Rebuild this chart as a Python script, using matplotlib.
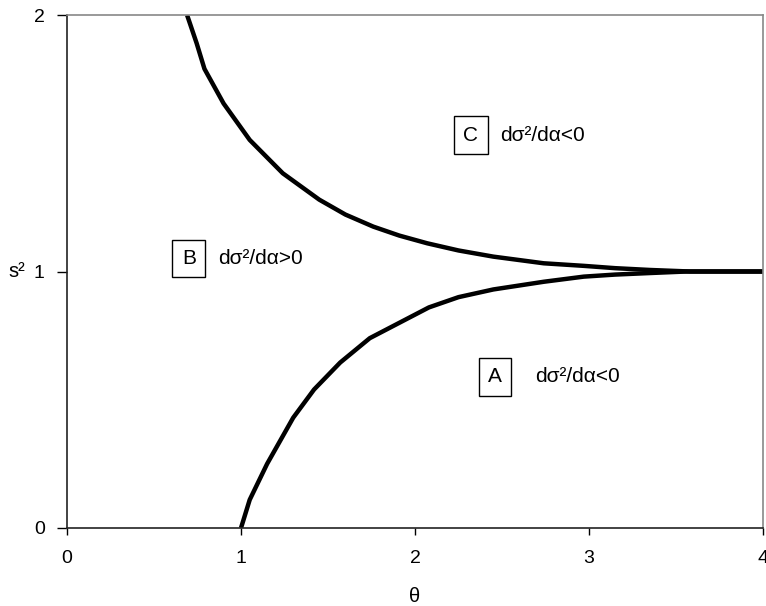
import matplotlib
matplotlib.use("Agg")
import matplotlib.pyplot as plt

plt.rcParams['font.family'] = ['Liberation Sans', 'DejaVu Sans']

# upper boundary curve (region C above, B left)
x_upper = [0.69, 0.745, 0.79, 0.90, 1.05, 1.24, 1.45, 1.60, 1.76, 1.91, 2.07, 2.25, 2.45, 2.74, 2.97, 3.15, 3.35, 3.58, 4.00]
y_upper = [2.00, 1.89, 1.79, 1.655, 1.513, 1.383, 1.28, 1.222, 1.175, 1.14, 1.11, 1.082, 1.058, 1.032, 1.022, 1.013, 1.006, 1.0, 1.0]

# lower boundary curve (region A below)
x_lower = [1.00, 1.05, 1.15, 1.30, 1.42, 1.57, 1.74, 1.91, 2.08, 2.25, 2.45, 2.74, 2.97, 3.15, 3.35, 3.56, 4.00]
y_lower = [0.00, 0.11, 0.25, 0.43, 0.54, 0.645, 0.74, 0.80, 0.86, 0.90, 0.93, 0.96, 0.98, 0.988, 0.994, 1.0, 1.0]

x_ticks = [0, 1, 2, 3, 4]
y_ticks = [0, 1, 2]

region_labels = ["C", "B", "A"]
region_texts = ["dσ²/dα<0", "dσ²/dα>0", "dσ²/dα<0"]
region_box_xy = [(2.32, 1.532), (0.70, 1.051), (2.46, 0.589)]
region_text_xy = [(2.49, 1.532), (0.87, 1.051), (2.69, 0.589)]

fig = plt.figure(figsize=(7.66, 6.06), dpi=100)
ax = fig.add_axes([67/766, 78/606, 696/766, 513/606])

ax.plot(x_upper, y_upper, color='black', lw=3.2, solid_joinstyle='round', solid_capstyle='butt')
ax.plot(x_lower, y_lower, color='black', lw=3.2, solid_joinstyle='round', solid_capstyle='butt')

ax.set_xlim(0, 4)
ax.set_ylim(0, 2)
ax.set_xticks(x_ticks)
ax.set_yticks(y_ticks)
ax.tick_params(axis='x', direction='out', length=5, width=1, pad=11, labelsize=14)
ax.tick_params(axis='y', direction='out', length=7, width=1, pad=9, labelsize=14)

for s in ['left', 'bottom']:
    ax.spines[s].set_color('#222222')
    ax.spines[s].set_linewidth(1.2)
for s in ['top', 'right']:
    ax.spines[s].set_color('#888888')
    ax.spines[s].set_linewidth(1.2)

ax.set_xlabel("θ", fontsize=14.5, labelpad=14)
ax.set_ylabel("s²", fontsize=14.5, rotation=0, labelpad=12, va='center')

for lab, txt, bxy, txy in zip(region_labels, region_texts, region_box_xy, region_text_xy):
    ax.text(bxy[0], bxy[1], lab, ha='center', va='center', fontsize=15,
            bbox=dict(boxstyle='square,pad=0.45', fc='white', ec='black', lw=1))
    ax.text(txy[0], txy[1], txt, ha='left', va='center', fontsize=15)

fig.savefig("out.png", dpi=100)
